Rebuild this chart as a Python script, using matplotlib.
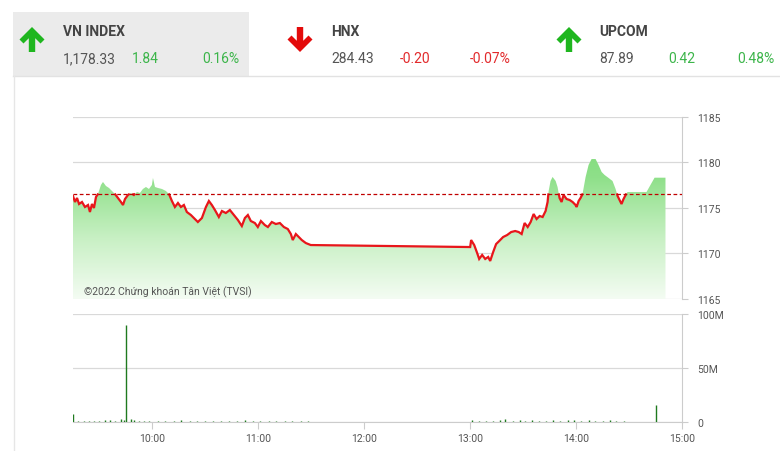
import numpy as np
import matplotlib
matplotlib.use("Agg")
import matplotlib.pyplot as plt
from matplotlib.patches import Polygon, Rectangle
from matplotlib.lines import Line2D
from matplotlib.colors import LinearSegmentedColormap

plt.rcParams['font.family'] = ['Roboto', 'DejaVu Sans']

# ---------------- data ----------------
REF_PRICE = 1176.49

price_hours = [9.25, 9.269, 9.288, 9.307, 9.335, 9.363, 9.392, 9.410, 9.429, 9.448,
               9.467, 9.486, 9.514, 9.533, 9.561, 9.590, 9.618, 9.646, 9.675, 9.703,
               9.722, 9.741, 9.769, 9.797, 9.825, 9.854, 9.882, 9.910, 9.939, 9.967,
               9.995, 10.005, 10.024, 10.052, 10.090, 10.127, 10.156, 10.184, 10.212, 10.241,
               10.269, 10.297, 10.325, 10.363, 10.401, 10.429, 10.467, 10.505, 10.533, 10.561,
               10.590, 10.627, 10.656, 10.693, 10.731, 10.769, 10.807, 10.844, 10.873, 10.901,
               10.929, 10.967, 10.995, 11.024, 11.061, 11.090, 11.127, 11.165, 11.203, 11.241,
               11.278, 11.307, 11.325, 11.354, 11.382, 11.410, 11.448, 11.495, 13.0, 13.009,
               13.038, 13.066, 13.085, 13.113, 13.142, 13.170, 13.189, 13.217, 13.245, 13.274,
               13.311, 13.349, 13.387, 13.425, 13.458, 13.486, 13.514, 13.543, 13.571, 13.599,
               13.627, 13.656, 13.684, 13.712, 13.731, 13.741, 13.759, 13.778, 13.807, 13.825,
               13.844, 13.863, 13.882, 13.910, 13.939, 13.967, 13.995, 14.005, 14.024, 14.042,
               14.061, 14.090, 14.118, 14.146, 14.184, 14.212, 14.241, 14.269, 14.307, 14.344,
               14.373, 14.392, 14.410, 14.429, 14.448, 14.467, 14.486, 14.665, 14.741, 14.844]

price_values = [1176.32, 1175.66, 1176.10, 1175.44, 1175.66, 1175.11, 1175.33, 1174.56, 1175.44, 1175.00,
                1176.21, 1176.54, 1177.53, 1177.86, 1177.42, 1177.20, 1176.87, 1176.54, 1176.10, 1175.66,
                1175.33, 1175.99, 1176.43, 1176.65, 1176.43, 1176.76, 1176.65, 1177.09, 1177.31, 1177.09,
                1177.53, 1178.30, 1177.31, 1177.20, 1177.09, 1176.87, 1176.54, 1175.77, 1175.11, 1175.55,
                1175.11, 1175.33, 1174.56, 1174.23, 1173.79, 1173.46, 1173.90, 1175.11, 1175.77, 1175.33,
                1174.78, 1174.01, 1174.67, 1174.45, 1174.78, 1174.23, 1173.68, 1173.02, 1173.90, 1174.23,
                1173.57, 1173.35, 1172.91, 1173.57, 1173.13, 1172.91, 1173.46, 1173.24, 1173.35, 1172.91,
                1172.69, 1172.14, 1171.48, 1172.14, 1171.81, 1171.48, 1171.15, 1170.93, 1170.71, 1171.48,
                1170.93, 1170.05, 1169.40, 1169.84, 1169.40, 1169.62, 1169.18, 1170.16, 1171.04, 1171.37,
                1171.81, 1172.03, 1172.36, 1172.47, 1172.36, 1172.14, 1173.35, 1172.91, 1173.46, 1174.34,
                1173.79, 1174.12, 1174.01, 1174.67, 1175.66, 1176.87, 1177.97, 1178.41, 1177.97, 1177.31,
                1176.10, 1175.66, 1176.43, 1175.99, 1175.88, 1175.66, 1175.33, 1175.11, 1175.77, 1176.10,
                1176.54, 1178.41, 1179.73, 1180.38, 1180.38, 1179.73, 1178.96, 1178.63, 1178.30, 1177.97,
                1177.09, 1176.32, 1175.88, 1175.44, 1175.99, 1176.43, 1176.76, 1176.76, 1178.33, 1178.33]

vol_hours = [9.25, 9.30, 9.35, 9.40, 9.45, 9.50, 9.55, 9.60, 9.65, 9.70,
             9.73, 9.75, 9.80, 9.83, 9.87, 9.92, 9.97,
             10.05, 10.12, 10.20, 10.27, 10.35, 10.42, 10.50, 10.57, 10.65, 10.72,
             10.80, 10.87, 10.95, 11.02, 11.10, 11.17, 11.25, 11.32, 11.40, 11.47,
             13.02, 13.08, 13.15, 13.22, 13.28, 13.33, 13.40, 13.47, 13.52, 13.58,
             13.65, 13.72, 13.78, 13.85, 13.92, 13.98, 14.05, 14.12, 14.18, 14.25,
             14.32, 14.38, 14.45, 14.75]
vol_millions = [7.4, 1.0, 0.8, 1.2, 0.8, 1.0, 2.0, 1.5, 1.2, 2.5,
                2.0, 89.8, 3.0, 1.5, 1.0, 1.2, 0.8,
                1.0, 1.2, 0.8, 1.5, 1.0, 1.2, 0.8, 1.0, 1.2, 0.8,
                1.0, 1.5, 0.8, 1.0, 1.2, 0.8, 1.0, 1.2, 0.8, 1.0,
                1.5, 1.0, 1.2, 1.0, 1.8, 2.5, 1.2, 2.0, 1.0, 1.5,
                1.0, 1.2, 1.8, 1.0, 1.5, 2.2, 0.8, 1.5, 1.2, 1.0,
                1.5, 1.0, 0.8, 15.7]

hour_ticks = [10, 11, 12, 13, 14, 15]
hour_labels = ["10:00", "11:00", "12:00", "13:00", "14:00", "15:00"]
price_ticks = [1165, 1170, 1175, 1180, 1185]
vol_ticks = [0, 50, 100]
vol_labels = ["0", "50M", "100M"]

idx_names = ["VN INDEX", "HNX", "UPCOM"]
idx_values = ["1,178.33", "284.43", "87.89"]
idx_changes = ["1.84", "-0.20", "0.42"]
idx_pcts = ["0.16%", "-0.07%", "0.48%"]
idx_up = [True, False, True]

# ---------------- figure ----------------
W, H = 780, 452
fig = plt.figure(figsize=(W / 100, H / 100), dpi=100)
fig.patch.set_facecolor('white')


def px(x, y):
    return (x / W, 1 - y / H)


GREEN_TXT = '#3cb54a'
RED_TXT = '#e2292b'
GRAY_TXT = '#555555'

# header background & frame
fig.patches.append(Rectangle(px(13, 77), (249 - 13) / W, 64 / H, transform=fig.transFigure,
                             facecolor='#ebebeb', edgecolor='none', zorder=0))
fig.lines.append(Line2D([13 / W, 1], [1 - 77 / H] * 2, transform=fig.transFigure,
                        color='#e2e2e2', lw=1))
fig.lines.append(Line2D([14 / W] * 2, [1 - 77 / H, 0], transform=fig.transFigure,
                        color='#e6e6e6', lw=1))

arrow_cx = [32, 300, 569]
name_x = [63, 331, 599]
chg_x = [132, 400, 668]
pct_x = [202, 470, 737]

up_shape = [(0, 0), (12.5, 12.5), (8.5, 16.5), (3.2, 11.2), (3.2, 25), (-3.2, 25),
            (-3.2, 11.2), (-8.5, 16.5), (-12.5, 12.5)]

for i in range(3):
    cx = arrow_cx[i]
    if idx_up[i]:
        pts = [px(cx + dx, 28 + dy) for dx, dy in up_shape]
        col = '#1fb61f'
    else:
        pts = [px(cx + dx, 53 - dy) for dx, dy in up_shape]
        col = '#e30b0b'
    fig.patches.append(Polygon(pts, closed=True, transform=fig.transFigure,
                               facecolor=col, edgecolor='none'))
    c = GREEN_TXT if idx_up[i] else RED_TXT
    fig.text(*px(name_x[i], 32), idx_names[i], fontsize=10, fontweight='bold',
             color='#444444', va='center', ha='left')
    fig.text(*px(name_x[i], 59), idx_values[i], fontsize=10, color=GRAY_TXT,
             va='center', ha='left')
    fig.text(*px(chg_x[i], 59), idx_changes[i], fontsize=10, color=c,
             va='center', ha='left')
    fig.text(*px(pct_x[i], 59), idx_pcts[i], fontsize=10, color=c,
             va='center', ha='left')

# ---------------- price panel ----------------
x0, x1 = 9.25, 15.0
ax = fig.add_axes([73 / W, 1 - 300 / H, (682 - 73) / W, (300 - 118) / H])
ax.set_xlim(x0, x1)
ax.set_ylim(1165, 1185)

h = np.array(price_hours)
p = np.array(price_values)

cmap = LinearSegmentedColormap.from_list('g', ['#f4fcf3', '#c8f0c4', '#8fe08a', '#74d86e'])
grad = np.linspace(0, 1, 256).reshape(-1, 1)
im = ax.imshow(grad, extent=[x0, x1, 1165, 1185], origin='lower', aspect='auto',
               cmap=cmap, zorder=1, interpolation='bilinear')
verts = [(h[0], 1165)] + list(zip(h, p)) + [(h[-1], 1165)]
poly = Polygon(verts, closed=True, facecolor='none', edgecolor='none')
ax.add_patch(poly)
im.set_clip_path(poly)

# red line only where below reference
xs, ys = [], []
for i in range(len(h)):
    if i > 0 and (p[i - 1] - REF_PRICE) * (p[i] - REF_PRICE) < 0:
        t = (REF_PRICE - p[i - 1]) / (p[i] - p[i - 1])
        xs.append(h[i - 1] + t * (h[i] - h[i - 1]))
        ys.append(REF_PRICE)
    xs.append(h[i])
    ys.append(p[i])
xs = np.array(xs)
ys = np.array(ys)
ys_red = np.where(ys > REF_PRICE + 1e-9, np.nan, ys)
ax.plot(xs, ys_red, color='#e8161b', lw=1.6, zorder=4, solid_joinstyle='miter')

ax.axhline(REF_PRICE, color='#c00000', lw=0.9, ls=(0, (3, 2)), zorder=5)

ax.set_yticks(price_ticks)
ax.yaxis.tick_right()
ax.set_xticks([])
ax.grid(axis='y', color='#d9d9d9', lw=0.9, zorder=0)
ax.set_axisbelow(True)
for s in ['top', 'left', 'bottom']:
    ax.spines[s].set_visible(False)
ax.spines['right'].set_color('#cccccc')
ax.tick_params(axis='y', length=4, color='#cccccc', labelsize=7.5,
               labelcolor=GRAY_TXT, pad=7)
ax.set_facecolor('none')

fig.text(*px(84, 292), "©2022 Chứng khoán Tân Việt (TVSI)", fontsize=7.5,
         color=GRAY_TXT, va='center', ha='left')

# ---------------- volume panel ----------------
av = fig.add_axes([73 / W, 1 - 423 / H, (682 - 73) / W, (423 - 315) / H])
av.set_xlim(x0, x1)
av.set_ylim(0, 100)
av.vlines(vol_hours, 0, vol_millions, color='#1f7a1f', lw=1.0, zorder=3)
av.set_yticks(vol_ticks)
av.set_yticklabels(vol_labels)
av.yaxis.tick_right()
av.set_xticks(hour_ticks)
av.set_xticklabels(hour_labels)
av.grid(axis='y', color='#d9d9d9', lw=0.9, zorder=0)
av.set_axisbelow(True)
for s in ['top', 'left']:
    av.spines[s].set_visible(False)
av.spines['right'].set_color('#cccccc')
av.spines['bottom'].set_color('#cccccc')
av.tick_params(axis='y', length=4, color='#cccccc', labelsize=7.5,
               labelcolor=GRAY_TXT, pad=7)
av.tick_params(axis='x', length=5, color='#cccccc', labelsize=7.5,
               labelcolor=GRAY_TXT, pad=3)

fig.savefig('out.png', dpi=100)
